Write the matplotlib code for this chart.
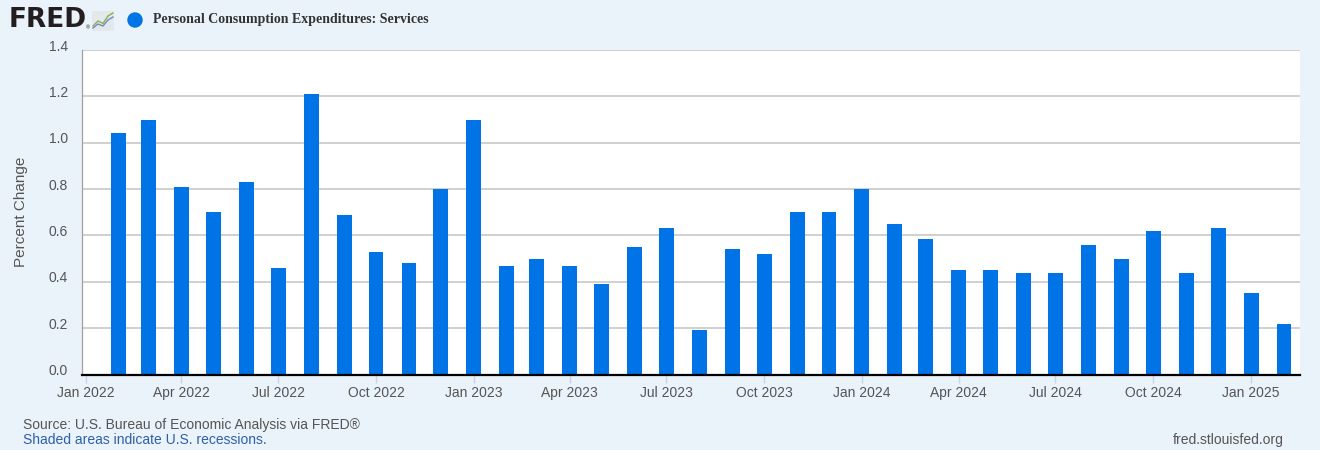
import numpy as np
import pandas as pd
import matplotlib
matplotlib.use("Agg")
import matplotlib.pyplot as plt
import matplotlib.dates as mdates
import matplotlib.transforms as mtransforms

# --- Data: PCE Services, percent change from previous month ---
dates = pd.date_range("2022-02-01", "2025-02-01", freq="MS")
pct_change = [
    1.04, 1.10, 0.81, 0.70, 0.83, 0.46, 1.21, 0.69, 0.53, 0.48, 0.80,   # Feb-Dec 2022
    1.10, 0.47, 0.50, 0.47, 0.39, 0.55, 0.63, 0.19, 0.54, 0.52, 0.70, 0.70,  # 2023
    0.80, 0.65, 0.585, 0.45, 0.45, 0.44, 0.44, 0.56, 0.50, 0.62, 0.44, 0.63,  # 2024
    0.35, 0.22,                                                          # 2025
]
y_ticks = [0.0, 0.2, 0.4, 0.6, 0.8, 1.0, 1.2, 1.4]
series_name = "Personal Consumption Expenditures: Services"

# --- Colours ---
bg = "#EAF2FA"
bar_blue = "#0073E6"
grid_grey = "#C4C4C4"
text_grey = "#555555"
tick_blue = "#C8D5E6"

plt.rcParams["font.family"] = ["Liberation Sans", "DejaVu Sans"]

fig = plt.figure(figsize=(13.2, 4.5), dpi=100, facecolor=bg)
ax = fig.add_axes([82/1320, 1-374.5/450, 1218/1320, 324.5/450])
ax.set_facecolor("white")

ax.bar(dates, pct_change, width=14, color=bar_blue, zorder=3)

# axes limits
ax.set_ylim(0, 1.4)
ax.set_xlim(pd.Timestamp("2021-12-28 12:00"), pd.Timestamp("2025-02-16"))

# grid and spines
ax.set_yticks(y_ticks)
ax.yaxis.set_major_formatter(matplotlib.ticker.FormatStrFormatter("%.1f"))
ax.grid(axis="y", color=grid_grey, lw=1.1, zorder=1)
for s in ["top", "right"]:
    ax.spines[s].set_visible(False)
ax.spines["left"].set_color("#A0A0A0")
ax.spines["left"].set_linewidth(0.9)
ax.spines["bottom"].set_color("black")
ax.spines["bottom"].set_linewidth(1.6)
ax.spines["bottom"].set_zorder(4)

ax.tick_params(axis="y", length=0, pad=10, labelsize=10, labelcolor=text_grey)
ax.xaxis.set_major_locator(mdates.MonthLocator(bymonth=[1, 4, 7, 10]))
ax.xaxis.set_major_formatter(mdates.DateFormatter("%b %Y"))
ax.tick_params(axis="x", length=6, width=1, color=tick_blue, pad=2,
               labelsize=10, labelcolor=text_grey)

# nudge y labels up a bit, like the original
offset = mtransforms.ScaledTranslation(0, 5/100, fig.dpi_scale_trans)
for lab in ax.get_yticklabels():
    lab.set_transform(lab.get_transform() + offset)

ax.set_ylabel("Percent Change", fontsize=11, color=text_grey)
ax.yaxis.set_label_coords(-54/1218, 0.5)

# --- Header: logo + legend ---
fig.text(9/1320, 1-20/450, "FRED", fontsize=19, fontweight="bold",
         family=["DejaVu Sans"], color="#231F20", va="center", ha="left")
fig.text(86/1320, 1-28/450, "®", fontsize=4, color="#231F20", va="center")
icon = fig.add_axes([92/1320, 1-31/450, 22/1320, 20/450])
icon.set_facecolor("#E4E8EC")
icon.plot([0, 1, 2, 3, 4], [1, 2, 1.5, 3, 3.6], color="#8BB04F", lw=1)
icon.plot([0, 1, 2, 3, 4], [0.6, 1.4, 1.0, 2.2, 2.8], color="#6C8EBF", lw=1)
icon.set_xlim(-0.2, 4.2)
icon.set_ylim(0, 4)
icon.set_xticks([])
icon.set_yticks([])
for s in icon.spines.values():
    s.set_visible(False)

fig.patches.append(matplotlib.patches.Ellipse((135/1320, 1-20/450), 14/1320, 14/450,
                                              transform=fig.transFigure, color=bar_blue))
fig.text(153/1320, 1-20/450, series_name, fontsize=10, fontweight="bold",
         family=["Liberation Serif", "DejaVu Serif"], color="#333333", va="center")

# --- Footer ---
fig.text(23/1320, 1-425/450, "Source: U.S. Bureau of Economic Analysis via FRED®",
         fontsize=10, color=text_grey, va="center")
fig.text(23/1320, 1-440/450, "Shaded areas indicate U.S. recessions.",
         fontsize=10, color="#2E5FA8", va="center")
fig.text(1284/1320, 1-440/450, "fred.stlouisfed.org",
         fontsize=10, color=text_grey, va="center", ha="right")

fig.savefig("out.png", dpi=100, facecolor=bg)
